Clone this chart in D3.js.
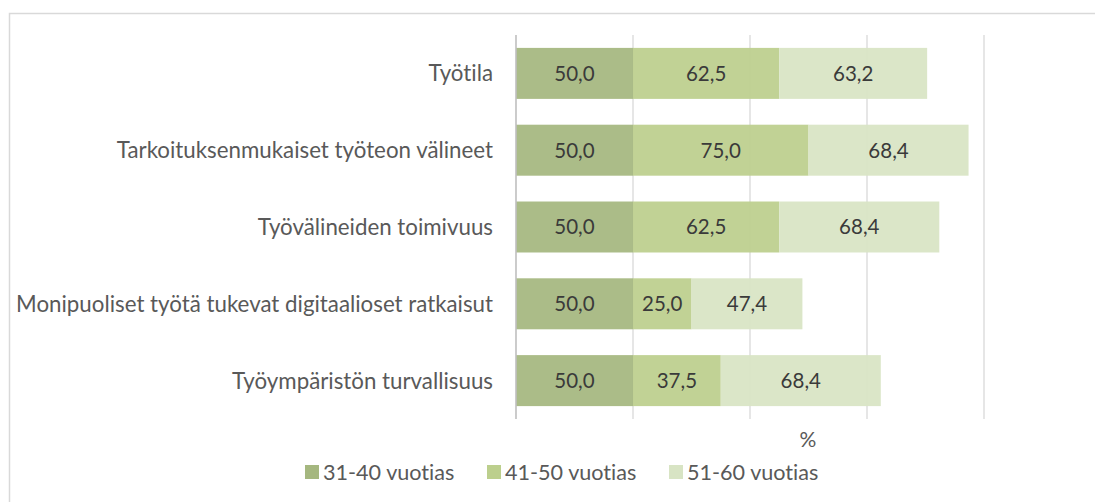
<!DOCTYPE html>
<html lang="fi">
<head>
  <meta charset="UTF-8">
  <title>Työympäristö</title>
  <script src="https://d3js.org/d3.v7.min.js"></script>
  <style>
    body { margin: 0; background: #fff; font-family: Lato, "Open Sans", sans-serif; }
    text { font-variant-ligatures: none; font-feature-settings: "liga" 0; }
  </style>
</head>
<body>
  <div id="chart"></div>
  <script>
    const categories = [
      "Työtila",
      "Tarkoituksenmukaiset työteon välineet",
      "Työvälineiden toimivuus",
      "Monipuoliset työtä tukevat digitaalioset ratkaisut",
      "Työympäristön turvallisuus"
    ];
    const seriesNames = ["31-40 vuotias", "41-50 vuotias", "51-60 vuotias"];
    const v3140 = [50.0, 50.0, 50.0, 50.0, 50.0];
    const v4150 = [62.5, 75.0, 62.5, 25.0, 37.5];
    const v5160 = [63.2, 68.4, 68.4, 47.4, 68.4];
    const xTicks = [0, 50, 100, 150, 200];
    const axisTitle = "%";

    const colors = ["#a5b77f", "#bccf8d", "#d8e4c4"];

    const W = 1095, H = 502;
    const plot = {left: 516, right: 984, top: 35, bottom: 419};

    const svg = d3.select("#chart").append("svg")
      .attr("width", W).attr("height", H);

    // chart frame
    svg.append("rect")
      .attr("x", 9.5).attr("y", 13.5)
      .attr("width", W + 20).attr("height", H + 20)
      .attr("fill", "#fff").attr("stroke", "#d9d9d9").attr("stroke-width", 1.5);

    const x = d3.scaleLinear().domain([0, 200]).range([plot.left, plot.right]);
    const y = d3.scaleBand().domain(categories)
      .range([plot.top, plot.bottom])
      .paddingInner(0.336).paddingOuter(0.168);

    // gridlines
    svg.append("g")
      .selectAll("line")
      .data(xTicks.slice(1))
      .enter().append("line")
      .attr("x1", d => x(d)).attr("x2", d => x(d))
      .attr("y1", plot.top).attr("y2", plot.bottom)
      .attr("stroke", "#d9d9d9").attr("stroke-width", 1.3);

    const rows = categories.map((c, i) => ({cat: c, vals: [v3140[i], v4150[i], v5160[i]]}));
    const stack = d3.stack().keys([0, 1, 2]).value((d, k) => d.vals[k]);
    const layers = stack(rows);

    const g = svg.append("g");
    layers.forEach((layer, k) => {
      g.selectAll(".bar" + k)
        .data(layer)
        .enter().append("rect")
        .attr("x", d => x(d[0]))
        .attr("width", d => x(d[1]) - x(d[0]))
        .attr("y", d => y(d.data.cat))
        .attr("height", y.bandwidth())
        .attr("fill", colors[k])
        .attr("fill-opacity", 0.93);

      g.selectAll(".lbl" + k)
        .data(layer)
        .enter().append("text")
        .attr("x", d => (x(d[0]) + x(d[1])) / 2)
        .attr("y", d => y(d.data.cat) + y.bandwidth() / 2)
        .attr("dy", "0.36em")
        .attr("text-anchor", "middle")
        .style("font-size", "20.5px")
        .style("fill", "#3a3a3a")
        .text(d => d3.format(".1f")(d[1] - d[0]).replace(".", ","));
    });

    // vertical axis line
    svg.append("line")
      .attr("x1", x(0)).attr("x2", x(0))
      .attr("y1", plot.top).attr("y2", plot.bottom)
      .attr("stroke", "#bfbfbf").attr("stroke-width", 1.6);

    // category labels
    svg.append("g")
      .selectAll("text")
      .data(categories)
      .enter().append("text")
      .attr("x", 493)
      .attr("y", d => y(d) + y.bandwidth() / 2)
      .attr("dy", "0.36em")
      .attr("text-anchor", "end")
      .style("font-size", "22.3px")
      .style("fill", "#595959")
      .text(d => d);

    // axis title
    svg.append("text")
      .attr("x", 808).attr("y", 439)
      .attr("dy", "0.36em")
      .attr("text-anchor", "middle")
      .style("font-size", "21px")
      .style("fill", "#595959")
      .text(axisTitle);

    // legend
    const legendX = [305, 487, 669];
    const legend = svg.append("g");
    seriesNames.forEach((s, k) => {
      legend.append("rect")
        .attr("x", legendX[k]).attr("y", 465)
        .attr("width", 14).attr("height", 14)
        .attr("fill", colors[k]);
      legend.append("text")
        .attr("x", legendX[k] + 18).attr("y", 472)
        .attr("dy", "0.36em")
        .style("font-size", "21.6px")
        .style("fill", "#595959")
        .text(s);
    });
  </script>
</body>
</html>
